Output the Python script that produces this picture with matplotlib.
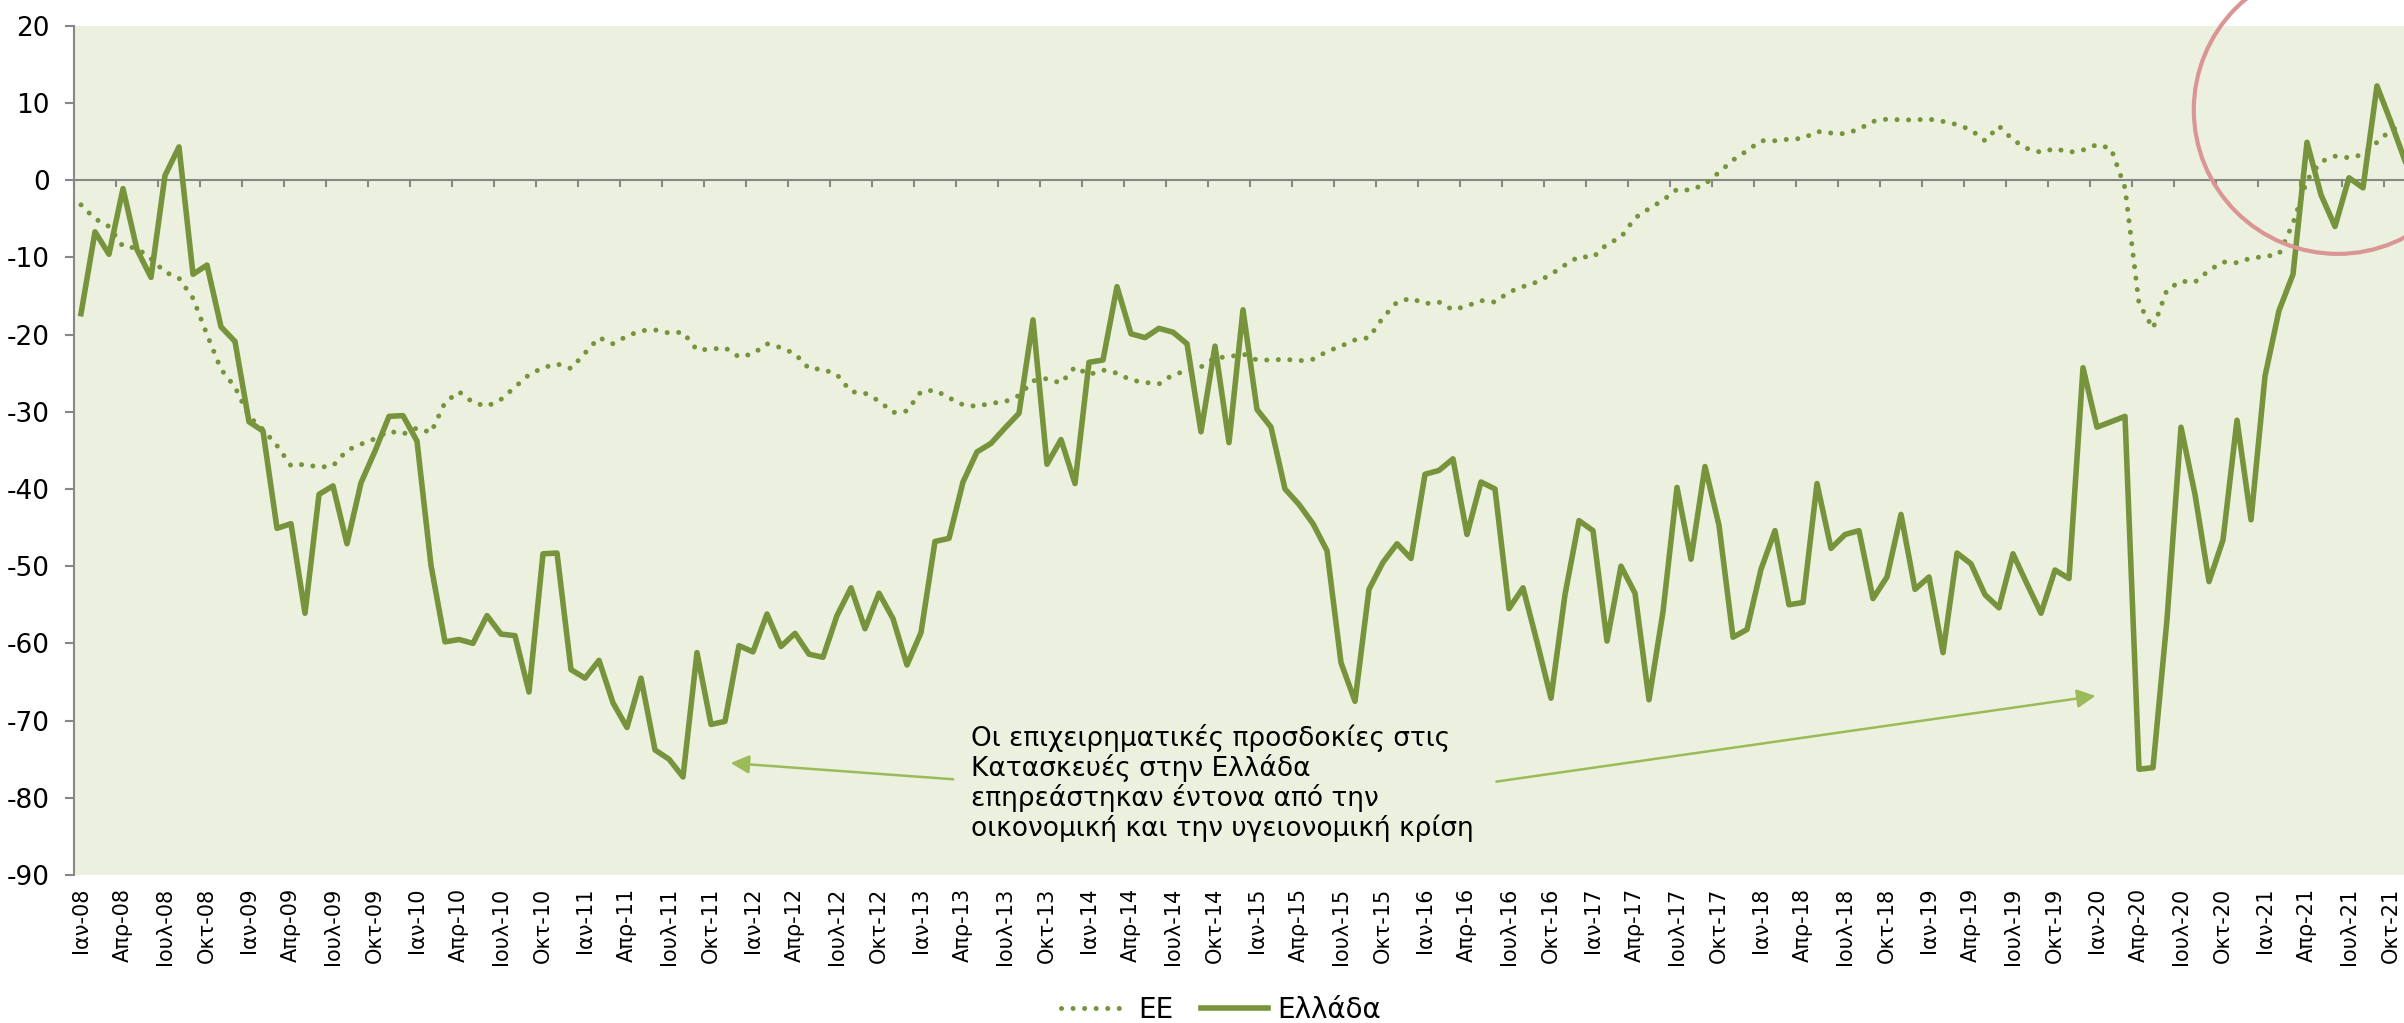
import numpy as np
import matplotlib
matplotlib.use("Agg")
import matplotlib.pyplot as plt
from matplotlib.patches import Ellipse

# monthly series, Jan-08 .. Nov-21
greece = [
    -17.3, -6.7, -9.6, -1.1, -9.0, -12.6, 0.6, 4.3, -12.2, -11.0, -19.0, -20.9,
    -31.3, -32.5, -45.1, -44.5, -56.1, -40.7, -39.6, -47.1, -39.2, -35.1, -30.6, -30.5,
    -33.8, -49.9, -59.8, -59.5, -60.0, -56.4, -58.8, -59.0, -66.3, -48.4, -48.3, -63.4,
    -64.5, -62.2, -67.7, -70.9, -64.5, -73.8, -75.0, -77.3, -61.2, -70.5, -70.1, -60.3,
    -61.1, -56.2, -60.4, -58.7, -61.4, -61.8, -56.4, -52.8, -58.1, -53.5, -56.8, -62.8,
    -58.6, -46.8, -46.4, -39.1, -35.2, -34.1, -32.1, -30.2, -18.1, -36.8, -33.6, -39.3,
    -23.6, -23.3, -13.8, -19.9, -20.4, -19.2, -19.7, -21.2, -32.6, -21.5, -34.0, -16.8,
    -29.7, -32.0, -40.0, -42.0, -44.5, -48.0, -62.5, -67.5, -53.0, -49.5, -47.1, -49.0,
    -38.1, -37.6, -36.1, -45.9, -39.1, -40.0, -55.5, -52.8, -59.8, -67.1, -53.7, -44.1,
    -45.4, -59.7, -50.0, -53.5, -67.3, -55.9, -39.8, -49.1, -37.1, -44.7, -59.2, -58.2,
    -50.4, -45.4, -55.0, -54.7, -39.3, -47.7, -45.9, -45.4, -54.2, -51.4, -43.3, -53.0,
    -51.4, -61.2, -48.3, -49.7, -53.7, -55.4, -48.4, -52.3, -56.1, -50.5, -51.6, -24.3,
    -32.0, -31.3, -30.6, -76.3, -76.1, -56.9, -32.0, -40.7, -52.0, -46.6, -31.1, -44.0,
    -25.4, -16.9, -12.2, 4.9, -1.9, -6.0, 0.3, -1.0, 12.2, 7.5, 2.5]

eu = [
    -3.2, -5.0, -6.0, -8.6, -8.8, -10.2, -11.9, -12.7, -15.3, -20.0, -24.5, -26.8,
    -30.6, -32.3, -34.4, -37.0, -36.8, -37.2, -37.0, -35.0, -34.2, -33.5, -32.5, -32.9,
    -32.1, -32.7, -28.8, -27.4, -28.8, -29.3, -28.4, -26.8, -25.2, -24.3, -23.8, -24.4,
    -22.4, -20.4, -21.2, -20.2, -19.5, -19.4, -19.8, -19.7, -22.0, -21.9, -21.7, -22.9,
    -22.5, -21.2, -21.7, -22.5, -24.4, -24.5, -25.2, -27.4, -27.6, -28.6, -30.1, -29.9,
    -27.4, -27.2, -28.2, -29.1, -29.3, -28.9, -28.7, -27.9, -26.0, -25.7, -26.3, -24.2,
    -25.2, -24.6, -25.0, -25.9, -26.2, -26.4, -25.2, -24.7, -24.2, -23.0, -22.9, -22.5,
    -23.3, -23.3, -23.2, -23.4, -23.2, -22.2, -21.5, -20.7, -20.4, -17.8, -15.8, -15.3,
    -16.0, -15.8, -16.8, -16.3, -15.6, -15.8, -14.5, -13.8, -13.2, -12.2, -11.0, -9.9,
    -10.0, -8.3, -7.4, -4.9, -3.7, -2.6, -1.2, -1.3, -0.5, 1.0, 2.6, 3.8,
    5.1, 5.1, 5.3, 5.4, 6.3, 6.1, 6.0, 6.6, 7.6, 7.9, 7.8, 7.8,
    7.9, 7.6, 7.2, 6.5, 5.1, 7.0, 5.2, 4.1, 3.6, 4.1, 3.6, 3.9,
    4.6, 4.1, -1.0, -16.0, -19.2, -14.2, -13.1, -13.2, -11.7, -10.6, -10.7, -10.1,
    -9.9, -9.6, -5.6, 0.0, 2.4, 3.1, 2.9, 3.3, 4.9, 6.5, 7.2]

label_months = ["Ιαν", "Απρ", "Ιουλ", "Οκτ"]
years = list(range(2008, 2022))
y_ticks = list(range(-90, 21, 10))

note = ("Οι επιχειρηματικές προσδοκίες στις\n"
        "Κατασκευές στην Ελλάδα\n"
        "επηρεάστηκαν έντονα από την\n"
        "οικονομική και την υγειονομική κρίση")

GREEN = "#77933C"
ARROW = "#9BBB59"
GRAY = "#878787"
BG = "#EBF1DE"
FONT = "DejaVu Sans"

x = np.arange(len(greece))
tick_pos = []
tick_lab = []
for k, yr in enumerate(years):
    for q, m in enumerate(label_months):
        pos = k * 12 + q * 3
        if pos < len(greece):
            tick_pos.append(pos)
            tick_lab.append(f"{m}-{yr % 100:02d}")

W, H = 2404, 1023
fig = plt.figure(figsize=(W / 100, H / 100), dpi=100)
ax = fig.add_axes([74 / W, 1 - 875 / H, (W - 74) / W, (875 - 25.7) / H])
ax.set_facecolor(BG)

ax.plot(x, eu, color=GREEN, lw=3.6, linestyle=(0, (0.01, 2.3)),
        dash_capstyle="round", label="ΕΕ", zorder=3)
ax.plot(x, greece, color=GREEN, lw=4.0, solid_joinstyle="round",
        label="Ελλάδα", zorder=4)

ax.set_xlim(-0.5, (W - 74) / 14 - 0.5)
ax.set_ylim(-90, 20)

for s in ["top", "right", "bottom"]:
    ax.spines[s].set_visible(False)
ax.spines["left"].set_color(GRAY)
ax.spines["left"].set_linewidth(1.5)

ax.set_yticks(y_ticks)
ax.set_yticklabels([str(v) for v in y_ticks], fontsize=19, family=FONT)
ax.tick_params(axis="y", direction="out", length=6.5, width=1.5, color=GRAY,
               pad=11)

ax.set_xticks(tick_pos)
ax.set_xticklabels(tick_lab, rotation=90, fontsize=15, family=FONT)
ax.tick_params(axis="x", length=0, pad=9)

# horizontal axis line at zero with the category tick marks
zero = ax.secondary_xaxis(90 / 110)
zero.set_xticks(np.arange(-0.5, len(greece), 3), labels=[])
zero.xaxis.set_ticks_position("bottom")
zero.tick_params(axis="x", direction="out", length=4.7, width=1.5,
                 color=GRAY, labelbottom=False, labeltop=False)
for sp in zero.spines.values():
    sp.set_color(GRAY)
    sp.set_linewidth(1.5)

ax.annotate("", xy=(46.4, -75.5), xytext=(62.3, -77.6),
            arrowprops=dict(arrowstyle="-|>", color=ARROW, lw=1.8,
                            mutation_scale=28, shrinkA=0, shrinkB=0))
ax.annotate("", xy=(143.9, -66.8), xytext=(101.1, -77.9),
            arrowprops=dict(arrowstyle="-|>", color=ARROW, lw=1.8,
                            mutation_scale=28, shrinkA=0, shrinkB=0))
ax.text(63.6, -78.1, note, ha="left", va="center", fontsize=19,
        linespacing=1.1, family=FONT, color="black")

ring = Ellipse((161.2, 9.1), width=288 / 14, height=288 / 7.72,
               fill=False, ec="#D99694", lw=3.0, clip_on=False, zorder=6)
ax.add_patch(ring)

fig.legend(loc="center", bbox_to_anchor=(0.508, 0.0127), ncol=2,
           frameon=False, handlelength=2.4, handletextpad=0.35,
           columnspacing=1.0, borderpad=0, prop={"family": FONT, "size": 20})

fig.savefig("out.png", dpi=100, facecolor="white")
